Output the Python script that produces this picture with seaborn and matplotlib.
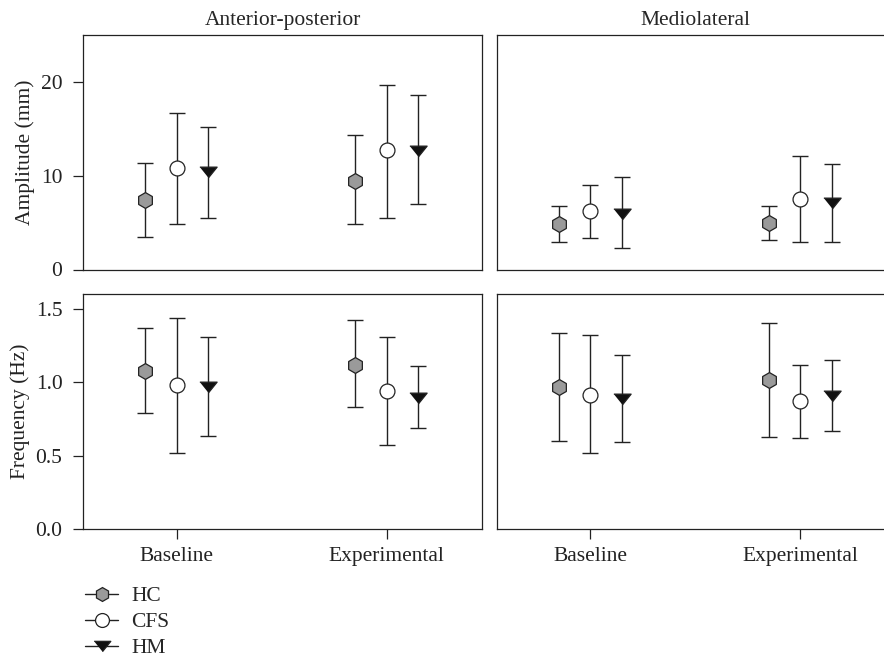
import numpy as np
import pandas as pd
import matplotlib
matplotlib.use("Agg")
import matplotlib.pyplot as plt
from matplotlib.lines import Line2D
import seaborn as sns

# data: mean, lower and upper end of each error bar
conditions = ["Baseline", "Experimental"]
groups = ["HC", "CFS", "HM"]

amp_ap_mean = [[7.4, 9.45], [10.8, 12.7], [10.35, 12.6]]
amp_ap_low = [[3.45, 4.8], [4.8, 5.5], [5.45, 6.95]]
amp_ap_high = [[11.35, 14.35], [16.7, 19.7], [15.15, 18.6]]

amp_ml_mean = [[4.8, 4.95], [6.2, 7.5], [5.95, 7.05]]
amp_ml_low = [[2.97, 3.15], [3.35, 2.97], [2.25, 2.97]]
amp_ml_high = [[6.75, 6.75], [9.0, 12.05], [9.9, 11.25]]

frq_ap_mean = [[1.08, 1.12], [0.98, 0.94], [0.97, 0.89]]
frq_ap_low = [[0.79, 0.83], [0.52, 0.57], [0.635, 0.69]]
frq_ap_high = [[1.37, 1.425], [1.44, 1.31], [1.31, 1.11]]

frq_ml_mean = [[0.965, 1.015], [0.915, 0.87], [0.885, 0.91]]
frq_ml_low = [[0.6, 0.63], [0.52, 0.62], [0.59, 0.665]]
frq_ml_high = [[1.335, 1.405], [1.32, 1.117], [1.185, 1.15]]

panels = [
    ("amp", "AP", amp_ap_mean, amp_ap_low, amp_ap_high),
    ("amp", "ML", amp_ml_mean, amp_ml_low, amp_ml_high),
    ("frq", "AP", frq_ap_mean, frq_ap_low, frq_ap_high),
    ("frq", "ML", frq_ml_mean, frq_ml_low, frq_ml_high),
]

rows = []
for measure, direction, m, lo, hi in panels:
    for gi, g in enumerate(groups):
        for ci, c in enumerate(conditions):
            rows.append({"measure": measure, "direction": direction, "group": g,
                         "condition": c, "ci": ci, "gi": gi,
                         "mean": m[gi][ci], "low": lo[gi][ci], "high": hi[gi][ci]})
df = pd.DataFrame(rows)
offsets = {"HC": -0.15, "CFS": 0.0, "HM": 0.15}
df["x"] = df["ci"] + df["group"].map(offsets)

sns.set_theme(style="ticks")
FS = 15.5
plt.rcParams["font.family"] = ["Liberation Serif", "DejaVu Serif"]
plt.rcParams["font.size"] = FS
plt.rcParams["axes.linewidth"] = 0.9
plt.rcParams["axes.edgecolor"] = "#222222"

tri = [(-1, 0.62), (1, 0.62), (0, -0.62)]
marker_map = {"HC": "h", "CFS": "o", "HM": tri}
color_map = {"HC": "#9a9a9a", "CFS": "white", "HM": "#111111"}
size_map = {"HC": 130, "CFS": 115, "HM": 155}

fig = plt.figure(figsize=(8.84, 6.6), dpi=100)
W, H = 884, 660
boxes = {
    ("amp", "AP"): (83.3, 35, 398.4, 234.5),
    ("amp", "ML"): (496.7, 35, 398.4, 234.5),
    ("frq", "AP"): (83.3, 294.3, 398.4, 234.7),
    ("frq", "ML"): (496.7, 294.3, 398.4, 234.7),
}

for (measure, direction), (l, t, w, h) in boxes.items():
    ax = fig.add_axes([l / W, 1 - (t + h) / H, w / W, h / H])
    sub = df[(df["measure"] == measure) & (df["direction"] == direction)]
    ax.errorbar(sub["x"], sub["mean"],
                yerr=[sub["mean"] - sub["low"], sub["high"] - sub["mean"]],
                fmt="none", ecolor="#222222", elinewidth=1.0, capsize=5.5, capthick=1.0, zorder=2)
    for g in groups:
        gs = sub[sub["group"] == g]
        sns.scatterplot(data=gs, x="x", y="mean", marker=marker_map[g], s=size_map[g],
                        color=color_map[g], edgecolor="#222222", linewidth=0.9,
                        ax=ax, zorder=3, legend=False)
    ax.set_xlim(-0.445, 1.452)
    if measure == "amp":
        ax.set_ylim(0, 25)
        ax.set_yticks([0, 10, 20])
        ax.set_title("Anterior-posterior" if direction == "AP" else "Mediolateral",
                     fontsize=FS, pad=7)
        ax.set_xticks([])
    else:
        ax.set_ylim(0, 1.6)
        ax.set_yticks([0.0, 0.5, 1.0, 1.5])
        ax.set_yticklabels(["0.0", "0.5", "1.0", "1.5"])
        ax.set_xticks([0, 1])
        ax.set_xticklabels(conditions)
    ax.set_xlabel("")
    ax.set_ylabel("")
    if direction == "AP":
        ax.set_ylabel("Amplitude (mm)" if measure == "amp" else "Frequency (Hz)",
                      fontsize=FS, labelpad=4, color="#222222")
    else:
        ax.set_yticks([])
    ax.tick_params(axis="both", direction="out", length=7, width=0.9, color="#222222",
                   labelsize=FS, labelcolor="#222222")
    ax.tick_params(axis="y", pad=8)
    ax.tick_params(axis="x", pad=6)
    for sp in ax.spines.values():
        sp.set_visible(True)

handles = []
for g in groups:
    mk = marker_map[g]
    handles.append(Line2D([0], [0], color="#222222", lw=1.0, marker=mk,
                          markersize=10 if g != "HM" else 12,
                          markerfacecolor=color_map[g], markeredgecolor="#222222",
                          markeredgewidth=0.9))
fig.legend(handles, groups, loc="upper left", bbox_to_anchor=(85 / W, 1 - 586 / H),
           frameon=False, fontsize=FS, handlelength=1.55, handletextpad=0.6,
           labelspacing=0.28, borderaxespad=0, borderpad=0)

fig.savefig("out.png", dpi=100)
